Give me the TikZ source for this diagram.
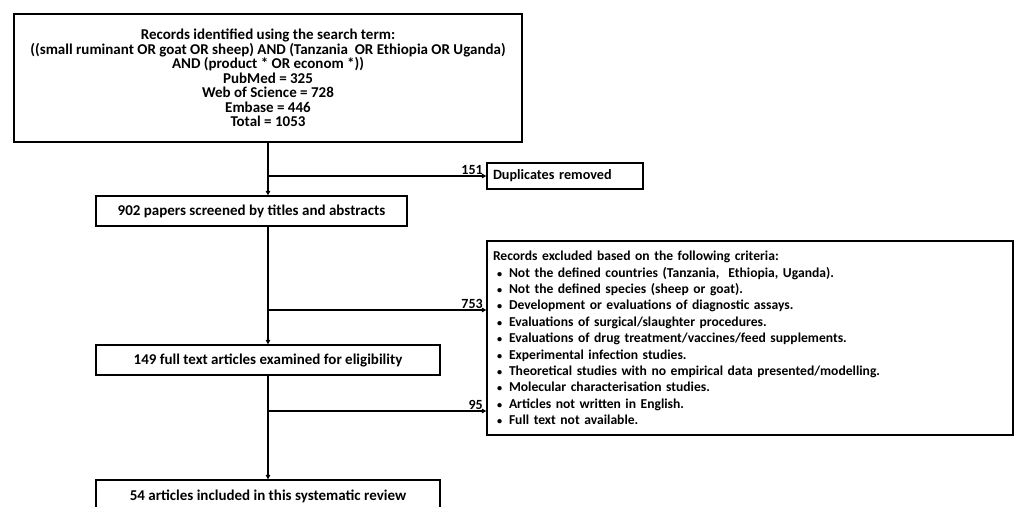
\documentclass[tikz,border=0pt]{standalone}
\usepackage{fontspec}
\setmainfont{Carlito}
\usepackage{graphicx}
\usetikzlibrary{arrows.meta}
\newcommand{\itm}{\hspace*{4pt}\makebox[12pt][l]{\scalebox{0.75}{\textbullet}}}
\begin{document}
\begin{tikzpicture}[x=1pt,y=-1pt,
  box/.style={draw=black, line width=1.3pt, inner sep=0pt, font=\fontsize{15}{14.5}\selectfont\bfseries},
  arr/.style={draw=black, line width=1.3pt, -{Triangle[length=4.5pt,width=4.5pt]}},
  lbl/.style={font=\fontsize{14}{14}\selectfont\bfseries, anchor=south east, inner xsep=3pt, inner ysep=1pt}
]
\useasboundingbox (0,0) rectangle (1014,506);
\clip (0,0) rectangle (1014,506);

\node[box, minimum width=508pt, minimum height=128pt, align=center] (top) at (268,78)
 {Records identified using the search term:\\
  ((small ruminant OR goat OR sheep) AND (Tanzania \ OR Ethiopia OR Uganda)\\
  AND (product * OR econom *))\\
  PubMed = 325\\
  Web of Science = 728\\
  Embase = 446\\
  Total = 1053};

\node[box, minimum width=156pt, minimum height=26pt, text width=144pt, align=left, inner xsep=6pt,
  font=\fontsize{14.2}{15}\selectfont\bfseries] (dup) at (565,176) {Duplicates removed};

\node[box, minimum width=311pt, minimum height=30pt] (screen) at (251.5,211) {902 papers screened by titles and abstracts};

\node[box, minimum width=344pt, minimum height=30pt] (full) at (268,360) {149 full text articles examined for eligibility};

\node[box, minimum width=344pt, minimum height=32pt] (incl) at (268,496) {54 articles included in this systematic review};

\node[box, minimum width=526pt, minimum height=194pt, text width=514pt, align=left, inner xsep=6pt,
  font=\fontsize{13.6}{16.4}\selectfont\bfseries] (excl) at (750,338)
 {Records excluded based on the following criteria:\\
  \itm Not the defined countries (Tanzania, \ Ethiopia, Uganda).\\
  \itm Not the defined species (sheep or goat).\\
  \itm Development or evaluations of diagnostic assays.\\
  \itm Evaluations of surgical/slaughter procedures.\\
  \itm Evaluations of drug treatment/vaccines/feed supplements.\\
  \itm Experimental infection studies.\\
  \itm Theoretical studies with no empirical data presented/modelling.\\
  \itm Molecular characterisation studies.\\
  \itm Articles not written in English.\\
  \itm Full text not available.};

\coordinate (b1) at (268,176);
\coordinate (b2) at (268,310);
\coordinate (b3) at (268,411);

\draw[arr] (top.south) -- (screen.north -| top.south);
\draw[arr] (b1) -- (dup.west) node[lbl, pos=1] (n151) {151};
\draw[arr] (screen.south -| full.north) -- (full.north);
\draw[arr] (b2) -- (b2 -| excl.west) node[lbl, pos=1] (n753) {753};
\draw[arr] (full.south) -- (incl.north);
\draw[arr] (b3) -- (b3 -| excl.west) node[lbl, pos=1] (n95) {95};
\end{tikzpicture}
\end{document}
